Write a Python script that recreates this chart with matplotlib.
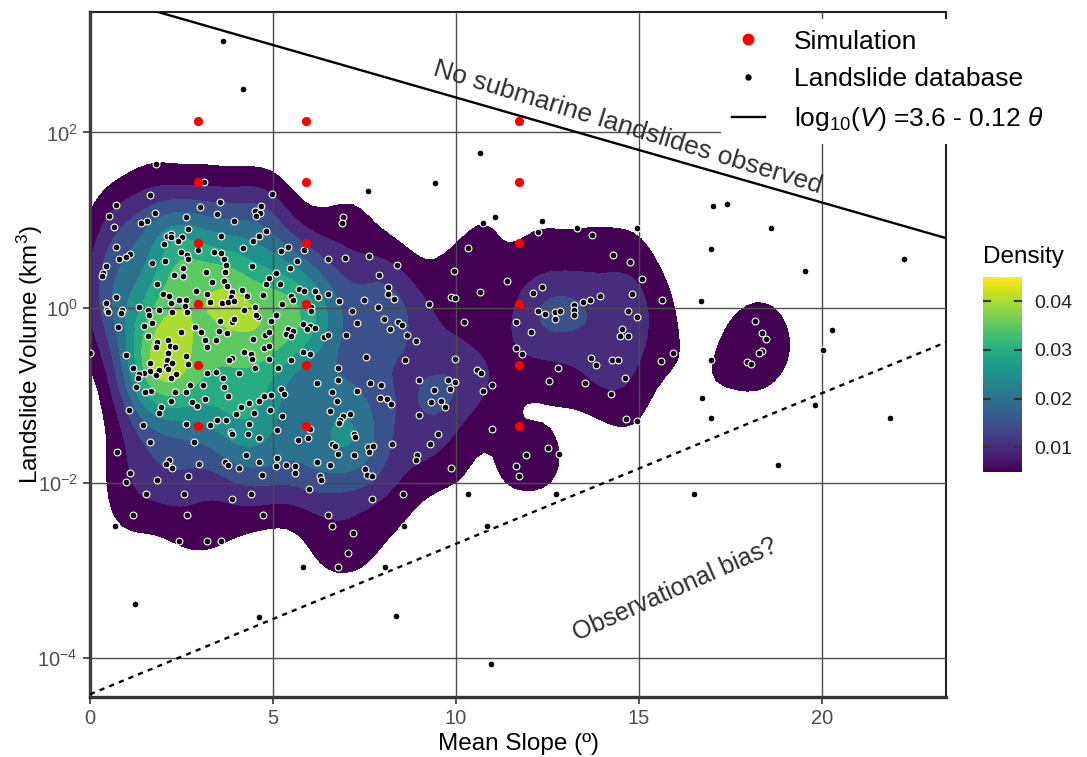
import numpy as np
import matplotlib
matplotlib.use('Agg')
import matplotlib.pyplot as plt
from matplotlib.lines import Line2D
from matplotlib import cm, colors

plt.rcParams['font.family'] = ['Liberation Sans', 'DejaVu Sans']
plt.rcParams['mathtext.fontset'] = 'custom'
plt.rcParams['mathtext.rm'] = 'Liberation Sans'
plt.rcParams['mathtext.it'] = 'Liberation Sans:italic'

# landslide database: mean slope (deg) and log10 of volume (km3)
slope_deg = np.array([
    1.80, 3.11, 1.64, 4.96, 0.70, 3.54, 3.01, 4.67, 4.50, 4.64,
    4.54, 0.52, 1.78, 3.46, 2.62, 3.93, 1.55, 1.39, 0.66, 2.67,
    4.81, 2.10, 2.21, 2.22, 2.51, 3.59, 4.62, 4.45, 2.40, 2.03,
    0.70, 4.19, 2.95, 2.49, 3.38, 3.58, 2.65, 1.08, 0.98, 0.79,
    3.65, 2.68, 2.06, 1.70, 3.72, 4.43, 0.45, 2.53, 0.36, 0.32,
    3.16, 3.69, 2.30, 2.53, 5.08, 4.89, 3.32, 3.67, 1.82, 4.82,
    3.73, 2.89, 4.16, 1.99, 3.89, 3.20, 2.15, 4.28, 3.84, 4.73,
    0.71, 2.43, 2.61, 2.60, 2.22, 3.61, 3.76, 3.94, 3.28, 4.50,
    0.45, 1.34, 0.46, 0.48, 0.87, 0.84, 1.58, 1.89, 2.23, 2.64,
    4.22, 4.60, 4.53, 5.07, 1.62, 0.76, 1.48, 1.69, 2.86, 3.55,
    3.88, 3.94, 4.94,
    7.60, 9.42, 6.90, 6.88, 10.34, 5.23, 5.41, 5.84, 6.49, 6.96,
    7.63, 5.66, 8.38, 9.95, 5.46, 7.90, 5.20, 8.14, 8.14,
    8.31, 5.72, 5.85, 6.16, 6.50, 6.24, 5.49, 5.54, 6.80, 7.50,
    9.86, 9.96, 9.27, 5.25, 6.04, 6.04, 7.87, 7.15, 7.30, 8.02,
    8.42, 8.52, 10.21, 5.82, 6.00, 6.15,
    2.48, 1.59, 3.53, 3.74, 3.04, 3.15, 3.44, 4.45, 4.77, 4.90,
    0.00, 1.83, 2.12, 1.80, 2.19, 2.32, 2.13, 0.98, 3.19, 4.75,
    4.90, 4.20, 4.39, 2.62, 2.10, 2.25, 2.08, 1.64, 3.88, 3.81,
    4.42, 4.88, 2.69, 1.18, 1.65, 1.89, 2.14, 1.47, 1.35, 1.32,
    1.81, 2.36, 2.21, 3.20, 3.43, 4.08, 4.51, 5.13, 3.63, 2.74,
    3.08, 1.25, 3.65, 1.67, 1.49, 2.32, 2.61, 3.78, 4.76, 4.94,
    4.61, 3.15, 2.79, 2.20, 2.92, 1.95, 1.89, 1.06, 4.13, 4.34,
    4.47, 4.93, 3.99, 3.46, 3.71, 3.29, 2.63, 1.46, 4.34, 5.10,
    3.84, 3.89, 4.32, 4.61, 1.63, 2.85, 0.75, 4.27, 5.12, 2.16,
    2.08, 2.23, 2.98, 3.69, 3.78, 4.06, 4.63, 5.08, 1.08, 0.98,
    1.84, 2.67, 4.71, 1.54, 2.57, 3.87, 4.39, 1.17, 2.65, 4.73,
    0.67, 2.42, 3.20, 3.57,
    5.42, 5.54, 5.92, 5.36, 5.49, 6.39, 6.51, 6.99, 8.20, 8.65,
    8.90, 5.82, 6.01, 5.50, 7.55, 8.61, 9.97, 6.78, 6.21, 6.77,
    7.64, 7.94, 8.99, 9.78, 9.97, 5.21, 5.29, 6.60, 7.29, 6.75,
    7.92, 8.11, 8.23, 9.40, 9.84, 9.31, 9.60, 9.70, 6.57, 5.24,
    6.91, 7.10, 6.84, 6.80, 8.98, 6.02, 7.21, 7.25, 9.52, 5.69,
    5.96, 6.61, 6.70, 7.60, 7.73, 8.24, 9.28, 7.63, 6.78, 7.22,
    8.94, 8.92, 5.36, 5.61, 5.60, 6.21, 6.56, 7.51, 7.57, 7.70,
    6.29, 6.32, 9.87, 5.98, 7.70, 8.56, 10.34, 6.51, 6.62, 8.57,
    7.19, 7.05,
    10.73, 11.07, 12.35, 12.25, 13.32, 13.71, 14.94, 14.28, 14.75, 11.40,
    10.65, 12.10, 12.36, 15.07, 14.80, 15.62, 13.93, 13.67, 13.48, 13.23,
    13.23, 13.22, 12.24, 12.44, 12.71, 12.84, 12.71, 14.70, 14.95, 11.63,
    12.05, 14.55, 14.49, 14.69, 11.65, 11.81, 15.93, 13.69, 13.82, 14.25,
    14.43, 15.60, 12.80, 10.57, 10.68, 10.99, 10.74, 12.53, 13.53, 14.61,
    14.23, 10.98, 14.65, 14.94, 12.51, 11.90, 12.81, 11.64, 11.72, 12.73,
    16.50, 10.85, 10.96,
    18.18, 18.36, 18.48, 18.37, 18.29, 17.94, 18.06, 20.27, 16.97, 16.72,
    16.96, 20.04, 19.80, 21.86, 18.81, 16.69, 10.66, 17.03, 17.40, 18.62,
    16.96, 19.55, 22.23, 3.63, 4.18, 1.22, 5.81, 4.61, 8.06, 8.37,
    6.78,
])
log_volume = np.array([
    1.64, 1.43, 1.29, 1.30, 1.17, 1.21, 1.15, 1.16, 1.10, 1.08,
    1.05, 1.05, 1.08, 1.07, 1.04, 0.99, 0.99, 0.97, 0.92, 0.90,
    0.87, 0.82, 0.84, 0.81, 0.81, 0.82, 0.82, 0.76, 0.76, 0.73,
    0.69, 0.68, 0.66, 0.63, 0.63, 0.62, 0.60, 0.61, 0.58, 0.56,
    0.56, 0.55, 0.53, 0.51, 0.49, 0.48, 0.47, 0.45, 0.40, 0.36,
    0.41, 0.41, 0.37, 0.36, 0.39, 0.34, 0.29, 0.30, 0.27, 0.27,
    0.25, 0.19, 0.20, 0.16, 0.18, 0.15, 0.13, 0.13, 0.12, 0.14,
    0.12, 0.09, 0.09, 0.02, 0.05, 0.05, 0.06, 0.08, 0.06, 0.01,
    0.05, 0.01, -0.03, -0.05, -0.03, -0.06, -0.03, -0.03, -0.05, -0.05,
    -0.03, -0.11, -0.09, -0.09, -0.09, -0.22, -0.21, -0.18, -0.22, -0.15,
    -0.16, -0.13, -0.15,
    1.33, 1.42, 1.04, 0.97, 0.68, 0.65, 0.69, 0.66, 0.56, 0.57,
    0.59, 0.53, 0.49, 0.42, 0.45, 0.37, 0.27, 0.23, 0.16,
    0.10, 0.21, 0.19, 0.19, 0.16, 0.12, 0.13, 0.09, 0.07, 0.09,
    0.12, 0.11, 0.04, 0.04, 0.01, -0.04, 0.01, -0.04, -0.18, -0.13,
    -0.16, -0.20, -0.17, -0.19, -0.21, -0.23,
    -0.28, -0.33, -0.27, -0.29, -0.28, -0.37, -0.37, -0.36, -0.31, -0.28,
    -0.52, -0.39, -0.37, -0.45, -0.44, -0.45, -0.52, -0.54, -0.45, -0.46,
    -0.44, -0.51, -0.53, -0.55, -0.60, -0.63, -0.67, -0.63, -0.58, -0.60,
    -0.59, -0.59, -0.65, -0.69, -0.73, -0.71, -0.70, -0.75, -0.76, -0.80,
    -0.77, -0.76, -0.80, -0.75, -0.74, -0.75, -0.69, -0.69, -0.81, -0.89,
    -0.89, -0.91, -0.91, -0.95, -0.97, -0.97, -0.97, -1.01, -1.01, -1.00,
    -1.07, -1.05, -1.08, -1.07, -1.13, -1.14, -1.20, -1.17, -1.14, -1.09,
    -1.21, -1.17, -1.22, -1.28, -1.29, -1.34, -1.33, -1.34, -1.33, -1.40,
    -1.42, -1.44, -1.45, -1.49, -1.54, -1.54, -1.65, -1.69, -1.72, -1.74,
    -1.79, -1.83, -1.79, -1.77, -1.80, -1.83, -1.77, -1.81, -1.89, -1.99,
    -1.97, -1.93, -1.91, -2.13, -2.13, -2.19, -2.13, -2.37, -2.37, -2.37,
    -2.50, -2.67, -2.67, -2.67,
    -0.25, -0.27, -0.25, -0.30, -0.33, -0.34, -0.31, -0.31, -0.25, -0.31,
    -0.38, -0.51, -0.53, -0.60, -0.57, -0.60, -0.59, -0.69, -0.86, -0.83,
    -0.86, -0.88, -0.83, -0.83, -0.85, -0.93, -0.99, -0.97, -0.95, -1.07,
    -1.03, -1.05, -1.10, -0.94, -0.93, -1.08, -1.07, -1.14, -1.18, -1.24,
    -1.24, -1.22, -1.29, -1.32, -1.23, -1.39, -1.45, -1.48, -1.45, -1.51,
    -1.49, -1.56, -1.58, -1.59, -1.58, -1.56, -1.56, -1.65, -1.67, -1.69,
    -1.69, -1.74, -1.80, -1.81, -1.89, -1.77, -1.80, -1.84, -1.91, -1.93,
    -1.93, -1.97, -1.83, -2.07, -2.19, -2.13, -2.13, -2.37, -2.50, -2.50,
    -2.58, -2.80,
    0.97, 1.03, 0.99, 0.86, 0.91, 0.83, 0.91, 0.60, 0.52, 0.30,
    0.18, 0.17, 0.23, 0.33, 0.15, 0.09, 0.13, 0.09, 0.06, 0.03,
    -0.03, -0.09, -0.04, -0.07, -0.05, -0.04, -0.13, -0.04, -0.11, -0.17,
    -0.28, -0.24, -0.32, -0.32, -0.46, -0.53, -0.52, -0.58, -0.66, -0.60,
    -0.60, -0.61, -0.69, -0.71, -0.75, -0.89, -0.95, -0.84, -0.86, -0.81,
    -0.99, -1.39, -1.27, -1.30, -1.60, -1.69, -1.67, -1.81, -1.93, -2.13,
    -2.13, -2.50, -4.07,
    -0.15, -0.29, -0.36, -0.50, -0.52, -0.62, -0.65, -0.26, -0.60, -1.03,
    -1.26, -0.49, -1.11, -1.26, -1.80, 0.07, 1.76, 1.16, 1.18, 0.91,
    0.67, 0.42, 0.56, 3.05, 2.50, -3.39, -2.97, -3.54, -2.97, -3.53,
    -2.97,
])
volume = 10 ** log_volume

# simulation runs
sim_slope = [2.95, 5.89, 11.71]
sim_volume = [0.044, 0.22, 1.1, 5.5, 27.5, 137]

# guide lines: log10(V) = a + b * theta
upper_a, upper_b = 3.6, -0.12
lower_a, lower_b = -4.42, 0.172

density_levels = [0.005, 0.010, 0.015, 0.020, 0.025, 0.030, 0.035, 0.040, 0.045]
density_ticks = [0.01, 0.02, 0.03, 0.04]
x_ticks = [0, 5, 10, 15, 20]
y_ticks = [1e-4, 1e-2, 1e0, 1e2]
y_tick_labels = [r'$10^{-4}$', r'$10^{-2}$', r'$10^{0}$', r'$10^{2}$']

# bandwidth multipliers for the density estimate
adjust_x, adjust_y = 0.45, 1.2


def bw_nrd(v):
    q1, q3 = np.percentile(v, [25, 75])
    return 4 * 1.06 * min(v.std(ddof=1), (q3 - q1) / 1.34) * len(v) ** -0.2


# 2d kernel density on (slope, log10 volume), like MASS::kde2d
n = len(slope_deg)
gx = np.linspace(slope_deg.min(), slope_deg.max(), 100)
gy = np.linspace(log_volume.min(), log_volume.max(), 100)
hx = adjust_x * bw_nrd(slope_deg) / 4
hy = adjust_y * bw_nrd(log_volume) / 4
kx = np.exp(-0.5 * ((gx[:, None] - slope_deg[None, :]) / hx) ** 2) / np.sqrt(2 * np.pi)
ky = np.exp(-0.5 * ((gy[:, None] - log_volume[None, :]) / hy) ** 2) / np.sqrt(2 * np.pi)
dens = ky @ kx.T / (n * hx * hy)

norm = colors.Normalize(vmin=0.005, vmax=0.045)
cmap = plt.get_cmap('viridis')

fig = plt.figure(figsize=(10.87, 7.57), dpi=100)
ax = fig.add_axes([90 / 1087, 1 - 697 / 757, 856 / 1087, 685 / 757])
ax.set_yscale('log')

ax.contourf(gx, 10 ** gy, dens,
            levels=density_levels + [max(dens.max(), 0.045) + 1],
            colors=[cmap(norm(l)) for l in density_levels], zorder=1)

ax.grid(True, color='#4d4d4d', lw=1.0)
ax.set_axisbelow(False)

x_line = np.array([0, 23.4])
ax.plot(x_line, 10 ** (upper_a + upper_b * x_line), color='black', lw=1.7, zorder=3)
ax.plot(x_line, 10 ** (lower_a + lower_b * x_line), color='black', lw=1.7,
        linestyle=(0, (2.2, 2.2)), zorder=3)

ax.scatter(slope_deg, volume, s=24, color='black', edgecolors='white',
           linewidths=0.8, zorder=4)
for s in sim_slope:
    ax.scatter([s] * len(sim_volume), sim_volume, s=44, color='red',
               linewidths=0, zorder=5)

ax.text(14.70, 10 ** 2.06, 'No submarine landslides observed', rotation=-17,
        rotation_mode='anchor', ha='center', va='center', fontsize=19, color='#2e2e2e')
ax.text(15.98, 10 ** -3.22, 'Observational bias?', rotation=24,
        rotation_mode='anchor', ha='center', va='center', fontsize=18, color='#2e2e2e')

ax.set_xlim(0, 23.39)
ax.set_ylim(10 ** -4.451, 10 ** 3.377)
ax.set_xticks(x_ticks)
ax.set_yticks(y_ticks)
ax.set_yticklabels(y_tick_labels)
ax.minorticks_off()
ax.tick_params(direction='out', length=5, width=1.2, color='#333333',
               labelsize=14.5, labelcolor='#4d4d4d', pad=4)

for side in ['top', 'right']:
    ax.spines[side].set_linewidth(1.5)
    ax.spines[side].set_color('#222222')
for side in ['left', 'bottom']:
    ax.spines[side].set_linewidth(2.4)
    ax.spines[side].set_color('#333333')

ax.set_xlabel('Mean Slope (º)', fontsize=17.5, labelpad=3)
ax.set_ylabel(r'Landslide Volume (km$^3$)', fontsize=17.5)
ax.yaxis.set_label_coords(-0.052, 0.5)

handles = [
    Line2D([], [], marker='o', color='red', linestyle='none', markersize=7.5),
    Line2D([], [], marker='o', color='black', linestyle='none', markersize=3.6),
    Line2D([], [], color='black', lw=1.7),
]
labels = ['Simulation', 'Landslide database',
          r'log$_{10}$($\mathit{V}$) =3.6 - 0.12 $\mathit{\theta}$']
fig.legend(handles, labels, loc='upper left', bbox_to_anchor=(721 / 1087, 1 - 19 / 757),
           fontsize=19, frameon=True, facecolor='white', edgecolor='none',
           framealpha=1, fancybox=False, borderpad=0.4, labelspacing=0.52,
           handlelength=1.25, handletextpad=1.1, borderaxespad=0)

cax = fig.add_axes([982.7 / 1087, 1 - 471.7 / 757, 39 / 1087, 195 / 757])
cb = fig.colorbar(cm.ScalarMappable(norm=norm, cmap=cmap), cax=cax, ticks=density_ticks)
cb.outline.set_visible(False)
cb.minorticks_off()
cax.tick_params(which='major', direction='in', left=True, right=True, length=6,
                width=1.5, color='#333333', labelsize=14, labelcolor='#222222', pad=9)
cax.set_yticklabels(['0.01', '0.02', '0.03', '0.04'])
cax.set_title('Density', loc='left', fontsize=17.5, pad=10)

fig.savefig('out.png', dpi=100)
